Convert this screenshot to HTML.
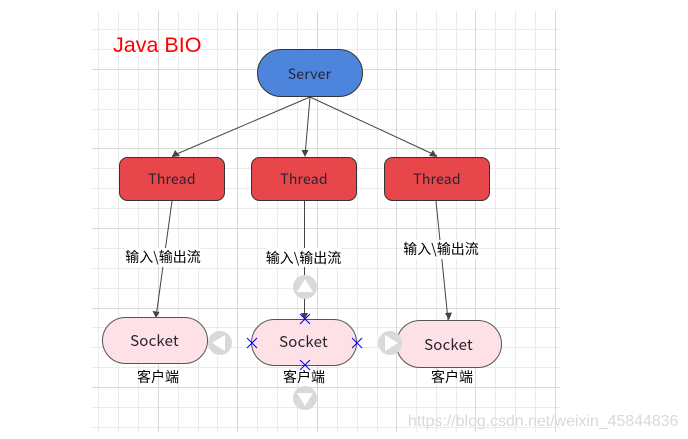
<!DOCTYPE html>
<html><head><meta charset="utf-8"><style>
html,body{margin:0;padding:0;background:#fff;width:688px;height:439px;overflow:hidden}
svg{display:block;position:absolute;left:0;top:0}
text{font-family:"Liberation Sans","Noto Sans CJK SC",sans-serif}
.n{font-family:"Noto Sans CJK SC",sans-serif;font-size:14px;letter-spacing:.2px;fill:#2a2230;text-anchor:middle}
.c{font-family:"Noto Sans CJK SC",sans-serif;font-size:14px;fill:#000;text-anchor:middle}
.d{font-family:"Noto Sans CJK SC",sans-serif;font-size:14px;fill:#000;text-anchor:middle}
</style></head><body>
<svg width="688" height="439" viewBox="0 0 688 439" xmlns="http://www.w3.org/2000/svg">
<rect width="688" height="439" fill="#fff"/>
<g stroke="#ebebeb" stroke-width="1" shape-rendering="crispEdges">
<path d="M98.5 11V432M118.5 11V432M138.5 11V432M178.5 11V432M198.5 11V432M217.5 11V432M257.5 11V432M277.5 11V432M297.5 11V432M337.5 11V432M357.5 11V432M377.5 11V432M416.5 11V432M436.5 11V432M456.5 11V432M495.5 11V432M515.5 11V432M535.5 11V432"/>
<path d="M92 29.5H560M92 49.5H560M92 89.5H560M92 109.5H560M92 129.5H560M92 168.5H560M92 188.5H560M92 208.5H560M92 248.5H560M92 268.5H560M92 288.5H560M92 327.5H560M92 347.5H560M92 367.5H560M92 407.5H560M92 427.5H560"/>
</g>
<g stroke="#d8d8d8" stroke-width="1" shape-rendering="crispEdges">
<path d="M158.5 11V432M237.5 11V432M317.5 11V432M396.5 11V432M475.5 11V432M555.5 11V432"/>
<path d="M92 69.5H560M92 148.5H560M92 228.5H560M92 308.5H560M92 387.5H560"/>
</g>
<text x="113" y="52" font-size="21.500" fill="#ff0000">Java BIO</text>

<g stroke="#444" stroke-width="1" fill="none">
<path d="M310 97L172 156M310 97L305 156M310 97L437 156"/>
<path d="M172 201L156 317M304.500 201V319M436 201L448 320"/>
</g>
<g fill="#444">
<path d="M172 157L180 156L175 150Z"/>
<path d="M305 157L301.500 150L308.500 150Z"/>
<path d="M437 157L429 156L433 150Z"/>
<path d="M156 318L152.500 311L159.500 312Z"/>
<path d="M304.500 320L301 313H308Z"/>
<path d="M449 320L445 313L452 312.500Z"/>
</g>

<rect x="257.500" y="49.500" width="105" height="47" rx="23.500" fill="#4e85dc" stroke="#333"/>
<rect x="119.500" y="157.500" width="105" height="43" rx="8" fill="#e7474a" stroke="#333"/>
<rect x="251.500" y="157.500" width="105" height="43" rx="8" fill="#e7474a" stroke="#333"/>
<rect x="384.500" y="157.500" width="105" height="43" rx="8" fill="#e7474a" stroke="#333"/>
<rect x="102.500" y="317.500" width="105" height="46" rx="23" fill="#fde1e6" stroke="#555"/>
<rect x="251.500" y="319.500" width="105" height="46" rx="23" fill="#fde1e6" stroke="#555"/>
<rect x="396.500" y="320.500" width="105" height="47" rx="23.500" fill="#fde1e6" stroke="#555"/>

<text class="n" x="309.500" y="79">Server</text>
<text class="n" x="172" y="184">Thread</text>
<text class="n" x="304" y="184">Thread</text>
<text class="n" x="437" y="184">Thread</text>
<text class="n" x="154.500" y="346" style="font-size:15px">Socket</text>
<text class="n" x="303.500" y="347" style="font-size:15px">Socket</text>
<text class="n" x="448.500" y="350" style="font-size:15px">Socket</text>

<rect x="125" y="248" width="76" height="19" fill="#fff"/>
<rect x="266" y="248" width="75" height="19" fill="#fff"/>
<rect x="403" y="240" width="76" height="19" fill="#fff"/>
<text class="c" x="163" y="262">输入\输出流</text>
<text class="c" x="303.500" y="263">输入\输出流</text>
<text class="c" x="441" y="254">输入\输出流</text>
<text class="d" x="158" y="382">客户端</text>
<text class="d" x="304" y="382">客户端</text>
<text class="d" x="452" y="382">客户端</text>

<g fill="#d9d9d9">
<circle cx="305" cy="287" r="12"/><circle cx="305" cy="398" r="12"/>
<circle cx="220" cy="343" r="12"/><circle cx="390" cy="343" r="12"/>
</g>
<g fill="#fff">
<path d="M305 279L313 292H297Z"/>
<path d="M305 406L313 393H297Z"/>
<path d="M212 343L225 335V351Z"/>
<path d="M398 343L385 335V351Z"/>
</g>
<g stroke="#0000ff" stroke-width="1" fill="none">
<path d="M300 314L310 324M310 314L300 324"/>
<path d="M300 360L310 370M310 360L300 370"/>
<path d="M247 338L257 348M257 338L247 348"/>
<path d="M352 338L362 348M362 338L352 348"/>
</g>
<text x="408" y="426" font-size="15.900" fill="#d9d9d9" style="font-family:'Liberation Sans',sans-serif">https://blog.csdn.net/weixin_45844836</text>
</svg>
</body></html>
